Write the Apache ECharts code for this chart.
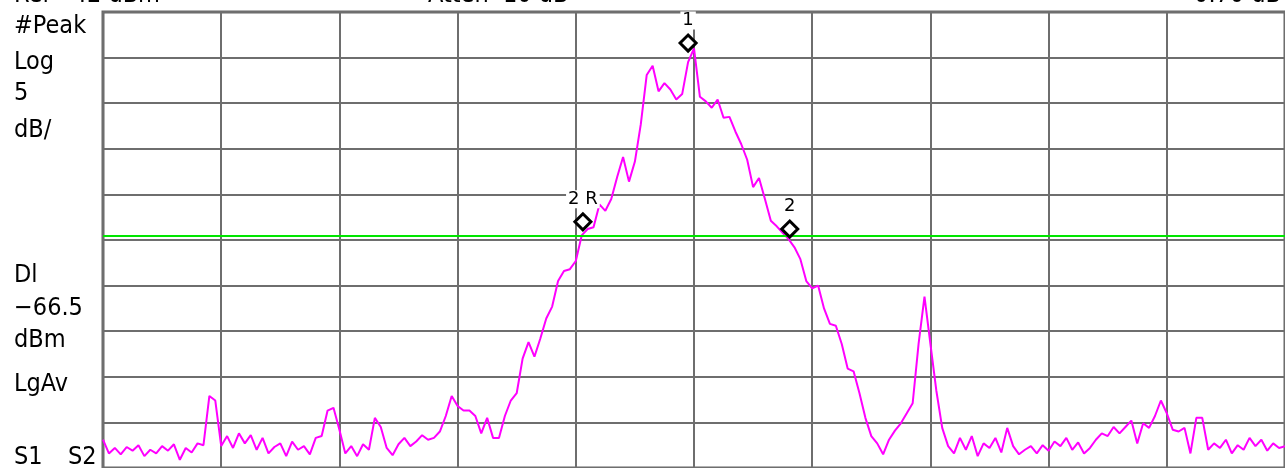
<!DOCTYPE html>
<html>
<head>
<meta charset="utf-8">
<script src="https://cdn.jsdelivr.net/npm/echarts@6/dist/echarts.min.js"></script>
<style>
  html, body { margin: 0; padding: 0; background: #fff; }
  #main { width: 1285px; height: 468px; }
</style>
</head>
<body>
<div id="main"></div>
<script>
  // analyzer settings
  var refLevel = -42;      // dBm, top of screen
  var dbPerDiv = 5;
  var divs = 10;
  var displayLine = -66.5; // dBm
  var freqStep = 0.05;     // divisions per trace point

  // trace, dBm, one value per point (201 points over 10 div)
  var levels = [
    -88.9, -90.4, -89.8, -90.5, -89.7, -90.1, -89.5, -90.7, -90.0, -90.4,
    -89.6, -90.1, -89.4, -91.1, -89.8, -90.3, -89.3, -89.5, -84.1, -84.6,
    -89.6, -88.5, -89.8, -88.2, -89.3, -88.4, -90.0, -88.7, -90.4, -89.7,
    -89.3, -90.7, -89.1, -90.0, -89.6, -90.5, -88.7, -88.5, -85.7, -85.4,
    -87.8, -90.4, -89.6, -90.7, -89.4, -90.0, -86.5, -87.5, -89.8, -90.6,
    -89.4, -88.7, -89.6, -89.1, -88.4, -88.9, -88.7, -88.0, -86.3, -84.1,
    -85.2, -85.7, -85.7, -86.3, -88.2, -86.5, -88.7, -88.7, -86.3, -84.6,
    -83.8, -80.0, -78.2, -79.8, -77.8, -75.6, -74.3, -71.5, -70.4, -70.2,
    -69.3, -66.5, -65.8, -65.6, -63.1, -63.8, -62.5, -60.1, -57.9, -60.6,
    -58.4, -54.3, -48.9, -47.9, -50.7, -49.8, -50.5, -51.6, -51.0, -47.5,
    -46.0, -51.3, -51.8, -52.5, -51.6, -53.6, -53.5, -55.1, -56.5, -58.2,
    -61.2, -60.2, -62.5, -64.9, -65.5, -66.2, -66.9, -67.8, -69.1, -71.5,
    -72.3, -72.0, -74.5, -76.2, -76.4, -78.4, -81.1, -81.4, -83.8, -86.5,
    -88.5, -89.3, -90.5, -88.9, -87.9, -87.1, -86.0, -84.9, -78.4, -73.2,
    -78.4, -83.5, -87.6, -89.6, -90.4, -88.7, -90.0, -88.5, -90.7, -89.3,
    -89.8, -88.7, -90.3, -87.6, -89.6, -90.5, -90.0, -89.6, -90.4, -89.5,
    -90.1, -89.1, -89.6, -88.7, -90.0, -89.2, -90.4, -89.8, -88.9, -88.2,
    -88.5, -87.5, -88.2, -87.5, -86.8, -89.3, -87.1, -87.6, -86.3, -84.6,
    -86.0, -87.8, -88.0, -87.6, -90.4, -86.5, -86.5, -90.0, -89.3, -89.8,
    -88.9, -90.4, -89.5, -90.0, -88.7, -89.6, -88.9, -90.1, -89.3, -89.8,
    -89.6
  ];

  // markers
  var markerNames = ['1', '2 R', '2'];
  var markerFreq = [4.95, 4.06, 5.81];
  var markerLevel = [-45.4, -65.0, -65.8];

  // annotation text
  var leftLabels = ['#Peak', 'Log', '5', 'dB/', 'Dl', '\u221266.5', 'dBm', 'LgAv', 'S1', 'S2'];
  var leftLabelX = [14, 14, 14, 14, 14, 14, 14, 14, 14, 68];
  var leftLabelY = [26, 62, 93, 130, 275, 308, 340, 384, 457, 457];

  var trace = levels.map(function (v, i) {
    return [+(i * freqStep).toFixed(2), v];
  });
  var markers = markerNames.map(function (n, i) {
    return { name: n, value: [markerFreq[i], markerLevel[i]] };
  });

  var fam = '"DejaVu Sans Condensed", "DejaVu Sans", sans-serif';
  function txt(t, x, y, align, valign) {
    return {
      type: 'text', x: x, y: y,
      style: {
        text: t, fontSize: 25, fontFamily: fam, fill: '#000',
        align: align || 'left', verticalAlign: valign || 'middle'
      }
    };
  }
  var graphics = leftLabels.map(function (t, i) {
    return txt(t, leftLabelX[i], leftLabelY[i]);
  });
  // header line, cut off by the top of the screen
  graphics.push(
    txt('Ref  -42 dBm', 14, 8, 'left', 'bottom'),
    txt('Atten  10 dB', 428, 8, 'left', 'bottom'),
    txt('0.70 dB', 1281, 8, 'right', 'bottom')
  );

  var myChart = echarts.init(document.getElementById('main'));
  var option = {
    animation: false,
    backgroundColor: '#fff',
    grid: {
      left: 103, top: 12, width: 1190, height: 458,
      show: true, borderColor: '#666', borderWidth: 3
    },
    xAxis: {
      type: 'value', min: 0, max: divs, interval: 1,
      axisLine: { show: false }, axisTick: { show: false }, axisLabel: { show: false },
      splitLine: { lineStyle: { color: '#6e6e6e', width: 2 } }
    },
    yAxis: {
      type: 'value', min: refLevel - divs * dbPerDiv, max: refLevel, interval: dbPerDiv,
      axisLine: { show: false }, axisTick: { show: false }, axisLabel: { show: false },
      splitLine: { lineStyle: { color: '#6e6e6e', width: 2 } }
    },
    graphic: graphics,
    series: [
      {
        type: 'line',
        data: trace,
        symbol: 'none',
        lineStyle: { color: '#ff00ff', width: 2 },
        markLine: {
          silent: true,
          symbol: 'none',
          label: { show: false },
          lineStyle: { color: '#00e600', width: 2, type: 'solid' },
          data: [{ yAxis: displayLine }]
        },
        z: 3
      },
      {
        type: 'scatter',
        data: markers,
        symbol: 'diamond',
        symbolSize: [16, 16],
        itemStyle: { color: '#fff', borderColor: '#000', borderWidth: 3, opacity: 1 },
        label: {
          show: true, position: 'top', distance: 4,
          formatter: '{b}', color: '#000', fontSize: 18, fontFamily: 'DejaVu Sans',
          backgroundColor: '#fff', padding: [0, 2]
        },
        z: 5
      }
    ]
  };
  myChart.setOption(option);
</script>
</body>
</html>
